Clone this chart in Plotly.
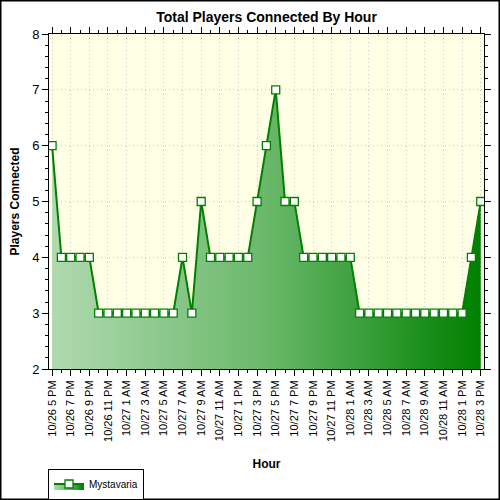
import plotly.graph_objects as go

hours = list(range(47))
players = [6, 4, 4, 4, 4,
           3, 3, 3, 3, 3, 3, 3, 3, 3,
           4, 3, 5,
           4, 4, 4, 4, 4,
           5, 6, 7, 5, 5,
           4, 4, 4, 4, 4, 4,
           3, 3, 3, 3, 3, 3, 3, 3, 3, 3, 3, 3,
           4, 5]
tick_hours = list(range(0, 47, 2))
tick_labels = ["10/26 5 PM", "10/26 7 PM", "10/26 9 PM", "10/26 11 PM",
               "10/27 1 AM", "10/27 3 AM", "10/27 5 AM", "10/27 7 AM",
               "10/27 9 AM", "10/27 11 AM", "10/27 1 PM", "10/27 3 PM",
               "10/27 5 PM", "10/27 7 PM", "10/27 9 PM", "10/27 11 PM",
               "10/28 1 AM", "10/28 3 AM", "10/28 5 AM", "10/28 7 AM",
               "10/28 9 AM", "10/28 11 AM", "10/28 1 PM", "10/28 3 PM"]

W, H = 500, 500
L, R, T, B = 49, 16, 34, 131
pw, ph = W - L - R, H - T - B

fig = go.Figure()
fig.add_trace(go.Scatter(
    x=hours, y=players, name="Mystavaria",
    mode="lines+markers",
    line=dict(color="#008000", width=2),
    marker=dict(symbol="square", size=8, color="white",
                line=dict(color="#008000", width=1.3)),
    fill="tozeroy",
    fillgradient=dict(type="horizontal",
                      colorscale=[[0, "#b0d9b0"], [0.5, "#6ab86a"], [1, "#008000"]]),
))

fig.update_layout(
    width=W, height=H,
    margin=dict(l=L, r=R, t=T, b=B, autoexpand=False),
    paper_bgcolor="white",
    plot_bgcolor="#FFFFE6",
    font=dict(family="Arial, Liberation Sans, sans-serif", size=11, color="black"),
    title=dict(text="<b>Total Players Connected By Hour</b>", x=0.5, xref="paper",
               y=1 - 17 / H, yanchor="middle", font=dict(size=14, color="black")),
    showlegend=True,
    legend=dict(x=-1 / pw, y=(ph - (484 - T)) / ph, xanchor="left", yanchor="middle",
                bgcolor="white", bordercolor="black", borderwidth=1,
                font=dict(size=10), itemwidth=30, tracegroupgap=0),
    xaxis=dict(range=[-0.33, 46.35], tickvals=tick_hours, ticktext=tick_labels,
               tickangle=-90, ticks="outside", ticklen=6, tickcolor="black",
               showline=True, linecolor="black", linewidth=1, mirror="ticks",
               showgrid=True, gridcolor="#c8c8c8", griddash="1px,3px", gridwidth=1,
               zeroline=False, tickfont=dict(size=11),
               minor=dict(dtick=1, tick0=0, ticks="outside", ticklen=3,
                          tickcolor="black", showgrid=False),
               title=dict(text="<b>Hour</b>", font=dict(size=12), standoff=18)),
    yaxis=dict(range=[2, 8], dtick=1, ticks="outside", ticklen=6, tickcolor="black",
               showline=True, linecolor="black", linewidth=1, mirror="ticks",
               showgrid=True, gridcolor="#c8c8c8", griddash="1px,3px", gridwidth=1,
               zeroline=False, tickfont=dict(size=13),
               minor=dict(dtick=0.2, ticks="outside", ticklen=3,
                          tickcolor="black", showgrid=False),
               title=dict(text="<b>Players Connected</b>", font=dict(size=12), standoff=9)),
    shapes=[dict(type="rect", xref="paper", yref="paper",
                 x0=(-L + 0.75) / pw, x1=1 + (R - 0.75) / pw,
                 y0=(-B + 0.75) / ph, y1=1 + (T - 0.75) / ph,
                 line=dict(color="black", width=1.5), layer="above")],
)

fig.write_html("out.html", config={"displayModeBar": False},
               post_script="document.body.style.margin='0';document.body.style.overflow='hidden';")
